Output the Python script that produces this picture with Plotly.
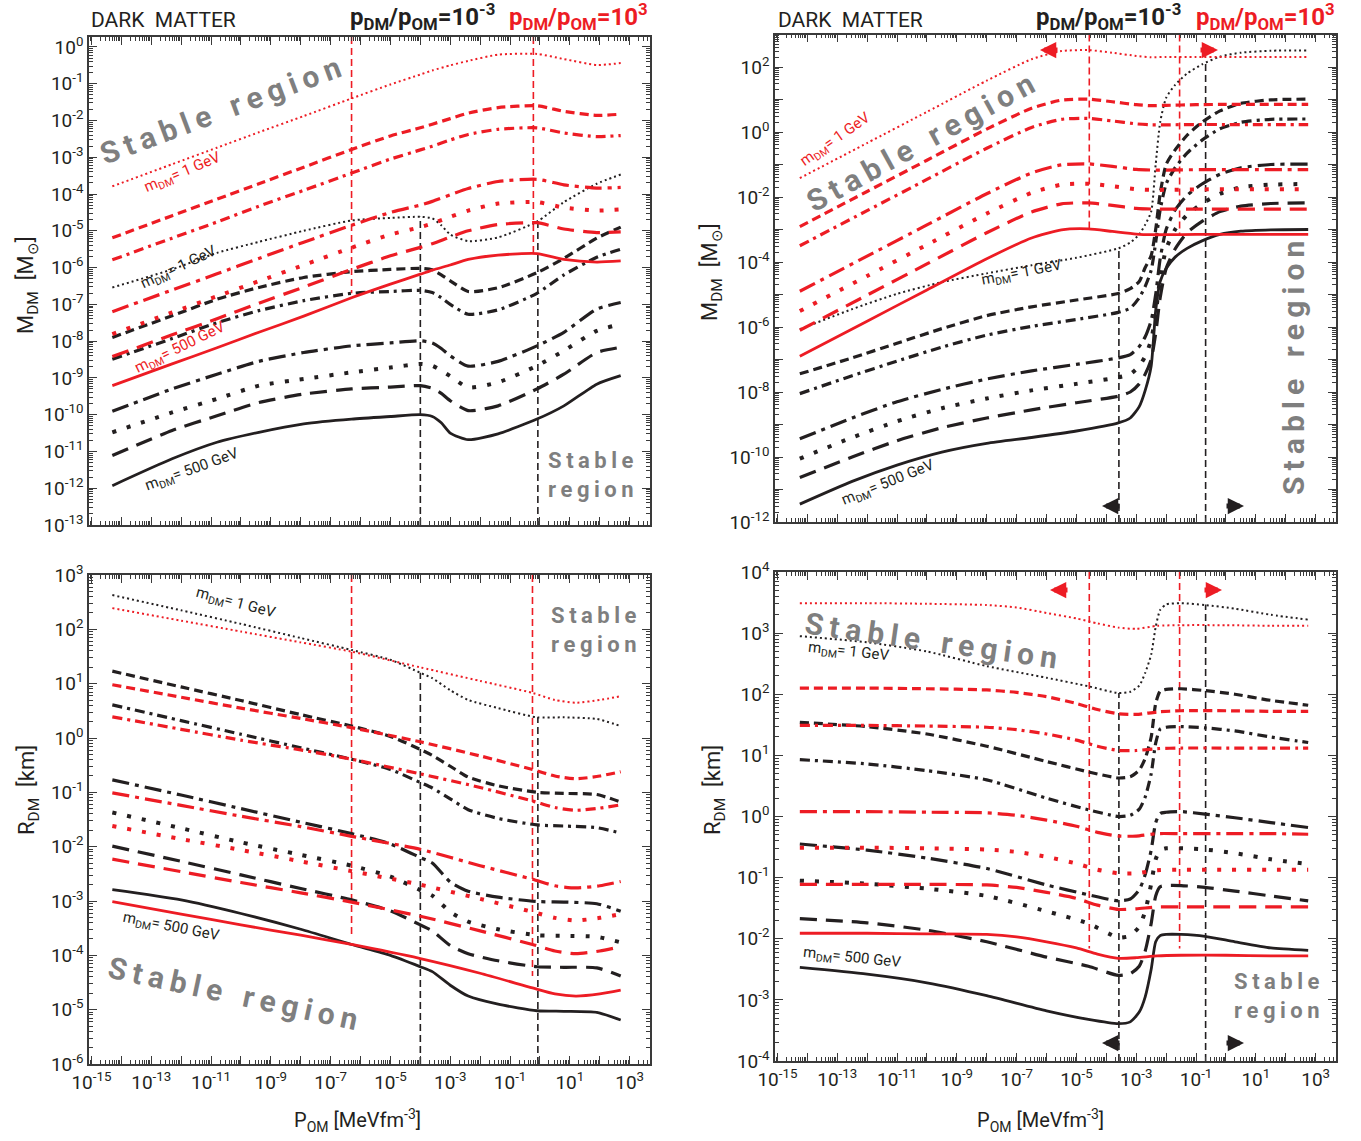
import plotly.graph_objects as go

# ---------------- data (log10 values) ----------------
# x grids: log10 P_OM [MeV fm^-3]
TL_RX = [-14.3, -12.3, -10.8, -9.4, -7.9, -6.3, -5.0, -4.0, -3.6, -3.0, -2.4, -1.4, -0.1, 0.8, 1.9, 2.7]
TL_R_DOT = [-3.79, -3.19, -2.74, -2.32, -1.88, -1.40, -1.02, -0.75, -0.64, -0.50, -0.38, -0.21, -0.19, -0.33, -0.49, -0.44]
TL_R_DASH = [-5.19, -4.59, -4.14, -3.72, -3.27, -2.79, -2.42, -2.20, -2.10, -1.95, -1.80, -1.65, -1.60, -1.75, -1.86, -1.83]
TL_R_DASHDOT = [-5.79, -5.20, -4.76, -4.33, -3.90, -3.43, -3.05, -2.80, -2.70, -2.53, -2.38, -2.24, -2.20, -2.34, -2.44, -2.41]
TL_R_LDASHDOT = [-7.20, -6.61, -6.17, -5.75, -5.31, -4.85, -4.50, -4.30, -4.20, -4.02, -3.85, -3.66, -3.60, -3.75, -3.84, -3.82]
TL_R_SDOT = [-7.81, -7.22, -6.78, -6.37, -5.93, -5.46, -5.10, -4.90, -4.80, -4.62, -4.45, -4.26, -4.22, -4.37, -4.45, -4.42]
TL_R_LDASH = [-8.42, -7.83, -7.39, -6.97, -6.53, -6.05, -5.68, -5.45, -5.35, -5.17, -5.00, -4.83, -4.78, -4.95, -5.05, -5.03]
TL_R_SOLID = [-9.21, -8.62, -8.18, -7.76, -7.32, -6.82, -6.45, -6.18, -6.07, -5.93, -5.78, -5.66, -5.62, -5.78, -5.85, -5.82]

TL_BX = [-14.3, -12.3, -10.8, -9.4, -7.9, -6.3, -5.0, -4.0, -3.6, -3.3, -3.0, -2.4, -1.4, -0.1, 0.8, 1.9, 2.7]
TL_B_DOT = [-6.54, -6.05, -5.60, -5.30, -5.00, -4.72, -4.65, -4.62, -4.66, -4.85, -5.10, -5.28, -5.18, -4.75, -4.22, -3.72, -3.47]
TL_B_DASH = [-7.90, -7.31, -6.86, -6.54, -6.27, -6.11, -6.05, -6.02, -6.06, -6.20, -6.36, -6.65, -6.55, -6.14, -5.75, -5.20, -4.90]
TL_B_DASHDOT = [-8.49, -7.93, -7.50, -7.17, -6.90, -6.70, -6.65, -6.62, -6.68, -6.82, -7.00, -7.27, -7.15, -6.70, -6.20, -5.72, -5.50]
TL_B_LDASHDOT = [-9.91, -9.30, -8.90, -8.55, -8.31, -8.13, -8.05, -7.99, -8.05, -8.20, -8.40, -8.68, -8.55, -8.13, -7.76, -7.13, -6.95]
TL_B_SDOT = [-10.48, -9.94, -9.57, -9.21, -9.03, -8.85, -8.72, -8.62, -8.67, -8.80, -8.95, -9.26, -9.12, -8.67, -8.26, -7.72, -7.54]
TL_B_LDASH = [-11.11, -10.43, -10.03, -9.67, -9.44, -9.30, -9.25, -9.21, -9.28, -9.42, -9.62, -9.89, -9.76, -9.30, -8.90, -8.31, -8.17]
TL_B_SOLID = [-11.93, -11.20, -10.75, -10.48, -10.25, -10.12, -10.05, -10.00, -10.05, -10.22, -10.50, -10.68, -10.52, -10.12, -9.76, -9.17, -8.94]

TR_RX = [-14.25, -12.0, -10.0, -8.0, -6.5, -5.5, -4.6, -3.8, -3.0, -2.5, -2.0, -1.0, 0.0, 1.0, 2.0, 2.75]
TR_R_DOT = [-1.42, -0.34, 0.62, 1.58, 2.24, 2.49, 2.52, 2.44, 2.34, 2.30, 2.31, 2.31, 2.31, 2.31, 2.31, 2.31]
TR_R_DASH = [-2.91, -1.83, -0.87, 0.09, 0.73, 0.98, 1.01, 0.93, 0.84, 0.81, 0.82, 0.84, 0.85, 0.85, 0.85, 0.85]
TR_R_DASHDOT = [-3.50, -2.42, -1.46, -0.50, 0.14, 0.39, 0.42, 0.34, 0.25, 0.22, 0.22, 0.23, 0.23, 0.23, 0.23, 0.23]
TR_R_LDASHDOT = [-4.90, -3.82, -2.86, -1.90, -1.26, -1.01, -0.98, -1.06, -1.15, -1.17, -1.17, -1.16, -1.16, -1.16, -1.16, -1.16]
TR_R_SDOT = [-5.51, -4.43, -3.47, -2.51, -1.87, -1.62, -1.59, -1.67, -1.76, -1.78, -1.78, -1.77, -1.76, -1.76, -1.76, -1.76]
TR_R_LDASH = [-6.10, -5.02, -4.06, -3.10, -2.46, -2.21, -2.18, -2.26, -2.35, -2.37, -2.37, -2.37, -2.37, -2.37, -2.37, -2.37]
TR_R_SOLID = [-6.90, -5.82, -4.86, -3.90, -3.26, -3.01, -2.98, -3.06, -3.14, -3.16, -3.16, -3.15, -3.15, -3.15, -3.15, -3.15]

TR_BX = [-14.25, -12.5, -11.0, -9.5, -8.0, -6.5, -5.0, -3.6, -3.2, -2.9, -2.7, -2.5, -2.35, -2.2, -2.0, -1.7, -1.3, -0.8, -0.2, 0.5, 1.5, 2.75]
TR_B_DOT = [-6.07, -5.45, -4.98, -4.62, -4.35, -4.10, -3.87, -3.58, -3.40, -3.15, -2.85, -2.45, -1.00, 0.30, 1.05, 1.45, 1.80, 2.08, 2.32, 2.44, 2.50, 2.51]
TR_B_DASH = [-7.44, -6.95, -6.50, -6.05, -5.65, -5.38, -5.17, -4.97, -4.82, -4.60, -4.17, -3.80, -3.00, -1.90, -1.00, -0.55, -0.10, 0.30, 0.65, 0.88, 0.99, 1.01]
TR_B_DASHDOT = [-8.05, -7.50, -7.05, -6.62, -6.25, -5.98, -5.77, -5.55, -5.42, -5.10, -4.75, -4.25, -3.40, -2.40, -1.60, -1.10, -0.65, -0.25, 0.10, 0.30, 0.39, 0.40]
TR_B_LDASHDOT = [-9.44, -8.80, -8.30, -7.92, -7.60, -7.35, -7.15, -6.95, -6.85, -6.60, -6.30, -5.80, -5.00, -3.90, -3.00, -2.40, -1.95, -1.60, -1.30, -1.10, -1.00, -0.99]
TR_B_SDOT = [-10.05, -9.40, -8.90, -8.50, -8.20, -7.95, -7.75, -7.55, -7.45, -7.20, -6.90, -6.40, -5.60, -4.50, -3.60, -3.00, -2.55, -2.20, -1.90, -1.70, -1.62, -1.60]
TR_B_LDASH = [-10.63, -10.00, -9.50, -9.10, -8.80, -8.55, -8.33, -8.13, -8.00, -7.75, -7.45, -7.00, -6.20, -5.10, -4.20, -3.60, -3.10, -2.75, -2.45, -2.28, -2.20, -2.18]
TR_B_SOLID = [-11.45, -10.75, -10.25, -9.85, -9.58, -9.40, -9.20, -8.95, -8.80, -8.45, -7.95, -7.20, -5.50, -4.60, -4.20, -3.85, -3.58, -3.35, -3.15, -3.05, -3.01, -3.00]

BL_RX = [-14.3, -12.0, -10.0, -8.0, -6.3, -4.0, -2.0, -0.25, 0.5, 1.2, 2.0, 2.7]
BL_R_DOT = [2.39, 2.16, 1.96, 1.76, 1.59, 1.30, 1.05, 0.83, 0.70, 0.65, 0.70, 0.77]
BL_R_DASH = [0.98, 0.75, 0.55, 0.36, 0.19, -0.07, -0.33, -0.58, -0.70, -0.75, -0.70, -0.62]
BL_R_DASHDOT = [0.39, 0.16, -0.04, -0.22, -0.39, -0.66, -0.91, -1.16, -1.28, -1.33, -1.29, -1.23]
BL_R_LDASHDOT = [-1.01, -1.24, -1.44, -1.63, -1.81, -2.05, -2.35, -2.60, -2.72, -2.76, -2.72, -2.64]
BL_R_SDOT = [-1.62, -1.86, -2.06, -2.27, -2.45, -2.70, -2.96, -3.20, -3.31, -3.36, -3.31, -3.24]
BL_R_LDASH = [-2.23, -2.46, -2.66, -2.85, -3.02, -3.28, -3.55, -3.80, -3.92, -3.97, -3.92, -3.84]
BL_R_SOLID = [-3.01, -3.24, -3.44, -3.63, -3.80, -4.06, -4.33, -4.60, -4.71, -4.75, -4.71, -4.64]

BL_BX = [-14.3, -12.0, -10.0, -8.0, -6.3, -5.0, -4.0, -3.6, -3.0, -2.4, -1.4, -0.1, 0.8, 1.9, 2.7]
BL_B_DOT = [2.63, 2.35, 2.10, 1.84, 1.62, 1.44, 1.20, 1.10, 0.88, 0.70, 0.55, 0.38, 0.38, 0.35, 0.22]
BL_B_DASH = [1.23, 0.94, 0.69, 0.43, 0.22, 0.03, -0.21, -0.32, -0.52, -0.72, -0.88, -1.00, -1.02, -1.04, -1.18]
BL_B_DASHDOT = [0.61, 0.32, 0.07, -0.18, -0.39, -0.58, -0.82, -0.92, -1.12, -1.32, -1.48, -1.60, -1.62, -1.65, -1.75]
BL_B_LDASHDOT = [-0.77, -1.05, -1.30, -1.55, -1.76, -1.95, -2.20, -2.30, -2.65, -2.82, -2.93, -3.01, -3.02, -3.05, -3.19]
BL_B_SDOT = [-1.37, -1.66, -1.92, -2.15, -2.35, -2.55, -2.80, -2.90, -3.20, -3.38, -3.52, -3.63, -3.64, -3.66, -3.76]
BL_B_LDASH = [-1.99, -2.27, -2.52, -2.77, -2.98, -3.18, -3.44, -3.55, -3.82, -3.97, -4.10, -4.21, -4.22, -4.23, -4.38]
BL_B_SOLID = [-2.79, -2.98, -3.23, -3.52, -3.80, -4.00, -4.21, -4.30, -4.55, -4.75, -4.90, -5.02, -5.03, -5.05, -5.19]

BR_RX = [-14.25, -12.0, -10.0, -8.0, -7.0, -6.0, -5.0, -4.3, -3.6, -3.0, -2.3, -1.5, 0.0, 1.5, 2.75]
BR_R_DOT = [3.49, 3.49, 3.48, 3.46, 3.42, 3.33, 3.24, 3.16, 3.09, 3.07, 3.12, 3.13, 3.13, 3.12, 3.12]
BR_R_DASH = [2.10, 2.10, 2.09, 2.07, 2.03, 1.96, 1.85, 1.75, 1.68, 1.67, 1.71, 1.73, 1.73, 1.72, 1.72]
BR_R_DASHDOT = [1.49, 1.49, 1.48, 1.46, 1.42, 1.35, 1.25, 1.15, 1.08, 1.08, 1.11, 1.12, 1.12, 1.12, 1.12]
BR_R_LDASHDOT = [0.08, 0.08, 0.07, 0.06, 0.02, -0.06, -0.16, -0.26, -0.32, -0.32, -0.28, -0.28, -0.28, -0.28, -0.29]
BR_R_SDOT = [-0.51, -0.51, -0.52, -0.54, -0.58, -0.66, -0.77, -0.87, -0.93, -0.93, -0.88, -0.87, -0.87, -0.87, -0.87]
BR_R_LDASH = [-1.11, -1.11, -1.11, -1.12, -1.16, -1.24, -1.34, -1.45, -1.52, -1.51, -1.48, -1.48, -1.48, -1.48, -1.48]
BR_R_SOLID = [-1.91, -1.91, -1.92, -1.93, -1.97, -2.05, -2.15, -2.25, -2.32, -2.31, -2.28, -2.27, -2.27, -2.28, -2.28]

BR_BX = [-14.25, -12.0, -10.0, -8.0, -6.0, -4.6, -3.6, -3.2, -2.9, -2.7, -2.5, -2.35, -2.2, -2.0, -1.5, -0.7, 0.3, 1.5, 2.75]
BR_B_DOT = [2.95, 2.85, 2.70, 2.46, 2.27, 2.13, 2.02, 2.04, 2.14, 2.35, 2.65, 3.10, 3.38, 3.47, 3.49, 3.46, 3.40, 3.30, 3.22]
BR_B_DASH = [1.54, 1.47, 1.35, 1.15, 0.90, 0.73, 0.63, 0.65, 0.76, 0.95, 1.30, 1.85, 2.05, 2.08, 2.09, 2.06, 2.00, 1.90, 1.82]
BR_B_DASHDOT = [0.93, 0.86, 0.75, 0.60, 0.30, 0.11, 0.00, 0.02, 0.12, 0.32, 0.70, 1.20, 1.43, 1.46, 1.47, 1.45, 1.40, 1.30, 1.21]
BR_B_LDASHDOT = [-0.45, -0.55, -0.68, -0.85, -1.12, -1.28, -1.38, -1.35, -1.20, -0.95, -0.55, -0.10, 0.05, 0.07, 0.08, 0.04, -0.02, -0.10, -0.18]
BR_B_SDOT = [-1.05, -1.10, -1.18, -1.30, -1.55, -1.75, -1.98, -1.95, -1.80, -1.55, -1.10, -0.70, -0.55, -0.52, -0.52, -0.54, -0.60, -0.70, -0.78]
BR_B_LDASH = [-1.67, -1.74, -1.86, -2.05, -2.30, -2.45, -2.60, -2.57, -2.45, -2.20, -1.75, -1.30, -1.15, -1.13, -1.13, -1.16, -1.22, -1.30, -1.38]
BR_B_SOLID = [-2.47, -2.58, -2.72, -2.93, -3.18, -3.32, -3.39, -3.36, -3.20, -2.95, -2.50, -2.05, -1.95, -1.93, -1.93, -1.96, -2.05, -2.15, -2.19]

# vertical marker lines: log10 x position, log10 y end (other end at frame)
TL_VRED_X, TL_VRED_Y = [-6.3, -0.22], [-6.70, -5.62]
TL_VBLK_X, TL_VBLK_Y = [-4.0, -0.07], [-4.62, -4.68]
TR_VRED_X, TR_VRED_Y = [-4.57, -1.55], [-2.99, -3.15]
TR_VBLK_X, TR_VBLK_Y = [-3.58, -0.68], [-3.56, 2.12]
BL_VRED_X, BL_VRED_Y = [-6.3, -0.25], [-3.68, -4.38]
BL_VBLK_X, BL_VBLK_Y = [-4.0, -0.07], [1.20, 0.38]
BR_VRED_X, BR_VRED_Y = [-4.57, -1.55], [-2.16, -2.16]
BR_VBLK_X, BR_VBLK_Y = [-3.58, -0.68], [2.02, 3.47]

# ---------------- styling ----------------
W, H = 1361, 1141
RED = '#ED1C24'
BLK = '#231F20'
GRAY = '#7F7F7F'
FRAME = '#3A3A3A'
FONT = 'Roboto, Open Sans, sans-serif'

STYLES = {
    'dot': dict(width=2.0, dash='2px,3px'),
    'dash': dict(width=3.2, dash='9px,5px'),
    'dashdot': dict(width=3.2, dash='10px,5px,3px,5px'),
    'ldashdot': dict(width=3.2, dash='17px,6px,4px,6px'),
    'sdot': dict(width=4.0, dash='4px,11px'),
    'ldash': dict(width=3.2, dash='17px,9px'),
    'solid': dict(width=2.8, dash='solid'),
}

X_RANGE = [-15.08, 3.68]
Y_RANGES = {'y': [-13.0, 0.27], 'y2': [-12.0, 3.0], 'y3': [-6.0, 3.0], 'y4': [-4.0, 4.0]}

def px2fx(p):
    return p / W

def px2fy(p):
    return 1 - p / H

DOMAINS = {
    'x': [px2fx(89), px2fx(650)], 'y': [px2fy(525), px2fy(37)],
    'x2': [px2fx(775), px2fx(1336)], 'y2': [px2fy(522), px2fy(34.5)],
    'x3': [px2fx(89), px2fx(650)], 'y3': [px2fy(1064), px2fy(575)],
    'x4': [px2fx(775), px2fx(1336)], 'y4': [px2fy(1061), px2fy(572)],
}

def pw(arr):
    return [10.0 ** v for v in arr]

fig = go.Figure()

def add_curve(xg, yv, color, style, xa, ya):
    st = STYLES[style]
    fig.add_trace(go.Scatter(
        x=pw(xg), y=pw(yv), mode='lines', xaxis=xa, yaxis=ya, showlegend=False,
        hoverinfo='skip',
        line=dict(color=color, width=st['width'], dash=st['dash'], shape='spline', smoothing=0.6)))

def add_vlines(xs, yends, color, from_top, xa, ya):
    yr = Y_RANGES[ya]
    edge = yr[1] if from_top else yr[0]
    for xv, ye in zip(xs, yends):
        fig.add_trace(go.Scatter(
            x=pw([xv, xv]), y=pw([edge, ye]), mode='lines', xaxis=xa, yaxis=ya,
            showlegend=False, hoverinfo='skip',
            line=dict(color=color, width=1.6, dash='7px,4px')))

panels = [
    ('x', 'y', TL_BX, [TL_B_DOT, TL_B_DASH, TL_B_DASHDOT, TL_B_LDASHDOT, TL_B_SDOT, TL_B_LDASH, TL_B_SOLID],
     TL_RX, [TL_R_DOT, TL_R_DASH, TL_R_DASHDOT, TL_R_LDASHDOT, TL_R_SDOT, TL_R_LDASH, TL_R_SOLID],
     (TL_VRED_X, TL_VRED_Y), (TL_VBLK_X, TL_VBLK_Y)),
    ('x2', 'y2', TR_BX, [TR_B_DOT, TR_B_DASH, TR_B_DASHDOT, TR_B_LDASHDOT, TR_B_SDOT, TR_B_LDASH, TR_B_SOLID],
     TR_RX, [TR_R_DOT, TR_R_DASH, TR_R_DASHDOT, TR_R_LDASHDOT, TR_R_SDOT, TR_R_LDASH, TR_R_SOLID],
     (TR_VRED_X, TR_VRED_Y), (TR_VBLK_X, TR_VBLK_Y)),
    ('x3', 'y3', BL_BX, [BL_B_DOT, BL_B_DASH, BL_B_DASHDOT, BL_B_LDASHDOT, BL_B_SDOT, BL_B_LDASH, BL_B_SOLID],
     BL_RX, [BL_R_DOT, BL_R_DASH, BL_R_DASHDOT, BL_R_LDASHDOT, BL_R_SDOT, BL_R_LDASH, BL_R_SOLID],
     (BL_VRED_X, BL_VRED_Y), (BL_VBLK_X, BL_VBLK_Y)),
    ('x4', 'y4', BR_BX, [BR_B_DOT, BR_B_DASH, BR_B_DASHDOT, BR_B_LDASHDOT, BR_B_SDOT, BR_B_LDASH, BR_B_SOLID],
     BR_RX, [BR_R_DOT, BR_R_DASH, BR_R_DASHDOT, BR_R_LDASHDOT, BR_R_SDOT, BR_R_LDASH, BR_R_SOLID],
     (BR_VRED_X, BR_VRED_Y), (BR_VBLK_X, BR_VBLK_Y)),
]
STYLE_ORDER = ['dot', 'dash', 'dashdot', 'ldashdot', 'sdot', 'ldash', 'solid']

for xa, ya, bx, bl, rx, rl, vred, vblk in panels:
    add_vlines(vred[0], vred[1], RED, True, xa, ya)
    add_vlines(vblk[0], vblk[1], BLK, False, xa, ya)
    for yv, st in zip(bl, STYLE_ORDER):
        add_curve(bx, yv, BLK, st, xa, ya)
    for yv, st in zip(rl, STYLE_ORDER):
        add_curve(rx, yv, RED, st, xa, ya)

# ---------------- axes ----------------
MINOR = [k * 10.0 ** n for n in range(-16, 5) for k in range(2, 10)]

def sup_label(n):
    return '10<sup>%d</sup>' % n

def make_axis(dom, rng, anchor, tick_exps, label_exps, show_labels):
    return dict(
        type='log', domain=dom, range=rng, anchor=anchor, automargin=False,
        showgrid=False, zeroline=False, showline=True, linecolor=FRAME, linewidth=1.6,
        mirror='allticks', ticks='inside', ticklen=8, tickwidth=1.2, tickcolor=FRAME,
        tickmode='array', tickvals=[10.0 ** e for e in tick_exps],
        ticktext=[sup_label(e) if e in label_exps else '' for e in tick_exps],
        showticklabels=show_labels,
        tickfont=dict(family=FONT, size=19, color=BLK),
        minor=dict(ticks='inside', ticklen=4, tickwidth=1, tickcolor=FRAME,
                   tickmode='array', tickvals=MINOR, showgrid=False),
    )

x_ticks = list(range(-15, 4))
x_labels = list(range(-15, 4, 2))
layout_axes = {}
layout_axes['xaxis'] = make_axis(DOMAINS['x'], X_RANGE, 'y', x_ticks, x_labels, False)
layout_axes['xaxis2'] = make_axis(DOMAINS['x2'], X_RANGE, 'y2', x_ticks, x_labels, False)
layout_axes['xaxis3'] = make_axis(DOMAINS['x3'], X_RANGE, 'y3', x_ticks, x_labels, True)
layout_axes['xaxis4'] = make_axis(DOMAINS['x4'], X_RANGE, 'y4', x_ticks, x_labels, True)
layout_axes['yaxis'] = make_axis(DOMAINS['y'], Y_RANGES['y'], 'x', list(range(-13, 1)), list(range(-13, 1)), True)
layout_axes['yaxis2'] = make_axis(DOMAINS['y2'], Y_RANGES['y2'], 'x2', list(range(-12, 4)), list(range(-12, 3, 2)), True)
layout_axes['yaxis3'] = make_axis(DOMAINS['y3'], Y_RANGES['y3'], 'x3', list(range(-6, 4)), list(range(-6, 4)), True)
layout_axes['yaxis4'] = make_axis(DOMAINS['y4'], Y_RANGES['y4'], 'x4', list(range(-4, 5)), list(range(-4, 5)), True)

# ---------------- annotations ----------------
anns = []

def text(px, py, t, size, color=BLK, angle=0, xanchor='center', bold=False):
    if bold:
        t = '<b>' + t + '</b>'
    anns.append(dict(x=px2fx(px), y=px2fy(py), xref='paper', yref='paper', text=t,
                     showarrow=False, textangle=angle, xanchor=xanchor, yanchor='middle',
                     font=dict(family=FONT, size=size, color=color)))

def arrow(px_tip, py, direction, color):
    anns.append(dict(x=px2fx(px_tip), y=px2fy(py), xref='paper', yref='paper', text='',
                     showarrow=True, ax=-19 * direction, ay=0, arrowhead=2, arrowsize=0.65,
                     arrowwidth=5, arrowcolor=color))

SP = '\u2009'
def spaced(word):
    return SP.join(list(word))

STABLE = spaced('Stable') + '\u2002\u2009' + spaced('region')
STABLE2 = spaced('Stable') + '<br>' + spaced('region')
RATIO_B = 'p<sub>DM</sub>/p<sub>OM</sub>=10<sup>-3</sup>'
RATIO_R = 'p<sub>DM</sub>/p<sub>OM</sub>=10<sup>3</sup>'
M1 = 'm<sub>DM</sub>= 1 GeV'
M500 = 'm<sub>DM</sub>= 500 GeV'

for x0, xb, xr in [(89, 422, 578), (776, 1108, 1265)]:
    text(x0, 20, 'DARK  MATTER', 21, BLK, 0, 'left')
    text(xb, 17, RATIO_B, 24, BLK, 0, 'center', True)
    text(xr, 17, RATIO_R, 24, RED, 0, 'center', True)

# axis titles
text(27, 285, 'M<sub>DM</sub>  [M<sub>\u2299</sub>]', 22, BLK, -90)
text(711, 272, 'M<sub>DM</sub>  [M<sub>\u2299</sub>]', 22, BLK, -90)
text(28, 790, 'R<sub>DM</sub>  [km]', 22, BLK, -90)
text(714, 790, 'R<sub>DM</sub>  [km]', 22, BLK, -90)
text(357, 1120, 'P<sub>OM</sub> [MeVfm<sup>-3</sup>]', 20, BLK)
text(1040, 1120, 'P<sub>OM</sub> [MeVfm<sup>-3</sup>]', 20, BLK)

# stable region labels
text(220, 110, STABLE, 30, GRAY, -20.5, bold=True)
text(591, 475, STABLE2, 22, GRAY, 0, bold=True)
text(920, 142, STABLE, 30, GRAY, -28.8, bold=True)
text(1293, 368, STABLE, 30, GRAY, -90, bold=True)
text(594, 630, STABLE2, 22, GRAY, 0, bold=True)
text(233, 993, STABLE, 30, GRAY, 12, bold=True)
text(931, 640, STABLE, 30, GRAY, 8, bold=True)
text(1277, 996, STABLE2, 22, GRAY, 0, bold=True)

# curve labels
text(182, 173, M1, 15, RED, -23)
text(178, 268, M1, 15, BLK, -25)
text(180, 348, M500, 15, RED, -26)
text(192, 470, M500, 15, BLK, -20)
text(835, 140, M1, 15, RED, -35)
text(1022, 273, M1, 15, BLK, -11)
text(888, 483, M500, 15, BLK, -22)
text(235, 603, M1, 15, BLK, 15)
text(171, 927, M500, 15, BLK, 11)
text(848, 652, M1, 15, BLK, 6)
text(852, 958, M500, 15, BLK, 6)

# arrows
arrow(1040, 50, -1, RED)
arrow(1218, 50, 1, RED)
arrow(1102, 506, -1, BLK)
arrow(1244, 506, 1, BLK)
arrow(1050, 590, -1, RED)
arrow(1222, 590, 1, RED)
arrow(1102, 1043, -1, BLK)
arrow(1244, 1043, 1, BLK)

fig.update_layout(
    width=W, height=H, margin=dict(l=0, r=0, t=0, b=0, autoexpand=False),
    paper_bgcolor='white', plot_bgcolor='white',
    font=dict(family=FONT, color=BLK),
    annotations=anns, **layout_axes)

fig.write_html('out.html')
